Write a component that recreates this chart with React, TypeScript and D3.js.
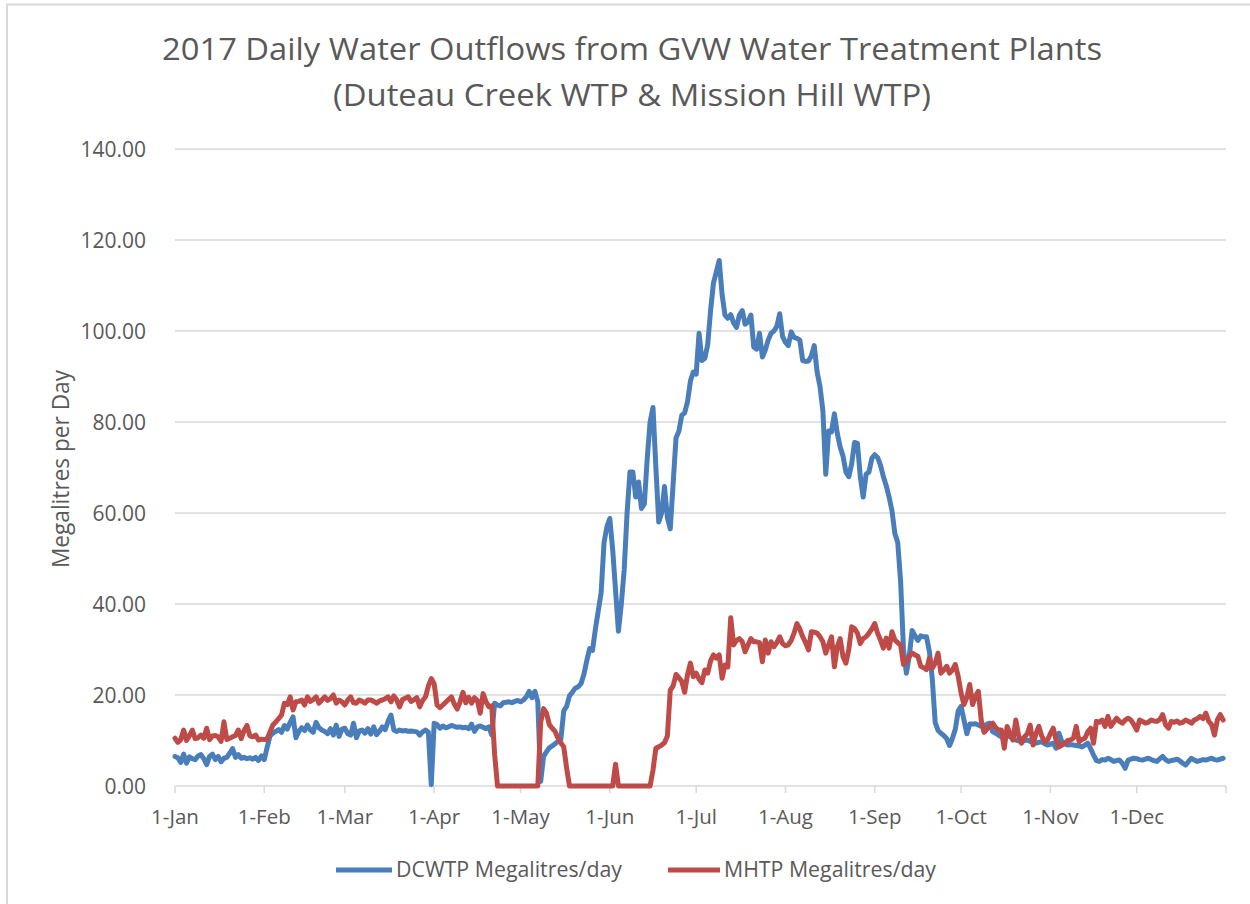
import React, { useEffect, useRef } from "react";
import * as d3 from "d3";

const titleLines = [
  "2017 Daily Water Outflows from GVW Water Treatment Plants",
  "(Duteau Creek WTP & Mission Hill WTP)",
];
const seriesNames = ["DCWTP Megalitres/day", "MHTP Megalitres/day"];
const seriesColors = ["#4a7ebb", "#be4b48"];
const monthLabels = [
  "1-Jan", "1-Feb", "1-Mar", "1-Apr", "1-May", "1-Jun",
  "1-Jul", "1-Aug", "1-Sep", "1-Oct", "1-Nov", "1-Dec",
];
const yTicks = [0, 20, 40, 60, 80, 100, 120, 140];
const yTitle = "Megalitres per Day";

// Duteau Creek WTP, one row per month (1 Jan .. 31 Dec 2017)
const dcwtp = [
  6.5, 6.2, 5.2, 7.0, 5.0, 6.4, 6.0, 5.8, 6.6, 6.9, 6.0, 4.7, 6.5, 7.0, 5.8, 6.5, 5.3, 6.1, 6.3, 7.2, 8.2, 6.3, 6.9, 6.1, 6.3, 6.0, 6.2, 5.9, 6.3, 5.6, 6.6,
  5.8, 8.5, 11.0, 11.6, 12.0, 12.4, 11.8, 13.3, 12.5, 14.0, 15.2, 10.6, 12.0, 12.8, 12.2, 13.4, 12.3, 11.8, 14.0, 12.8, 12.3, 12.0, 11.5, 12.6, 11.2, 13.4, 10.9, 12.5,
  12.7, 11.5, 11.2, 13.8, 10.6, 12.1, 12.3, 11.6, 12.6, 11.4, 13.0, 11.3, 12.0, 13.0, 12.4, 14.2, 15.6, 12.3, 12.0, 12.3, 12.1, 12.2, 12.0, 12.1, 12.0, 11.9, 11.2, 11.9, 12.3, 11.8, 0.3,
  13.8, 13.5, 12.7, 13.2, 12.8, 13.0, 13.3, 13.1, 12.9, 13.0, 12.8, 12.9, 12.6, 13.6, 12.0, 13.0, 13.2, 12.9, 12.6, 13.0, 11.2, 18.2, 17.8, 17.6, 18.3, 18.4, 18.5, 18.3, 18.6, 18.8,
  18.5, 18.9, 19.6, 20.8, 19.4, 20.8, 18.5, 1.0, 6.5, 7.5, 8.4, 8.8, 9.3, 9.8, 10.2, 16.5, 17.5, 19.8, 20.6, 21.5, 21.8, 22.5, 24.5, 27.5, 30.2, 29.8, 34.5, 38.5, 42.5, 53.5, 57.0,
  58.8, 52.0, 43.0, 34.0, 40.0, 47.5, 60.0, 69.0, 69.0, 63.5, 66.8, 61.0, 62.0, 72.0, 80.0, 83.2, 70.0, 58.0, 60.0, 65.8, 59.0, 56.5, 66.5, 76.5, 78.0, 81.5, 82.0, 84.5, 89.0, 91.0,
  90.5, 99.5, 93.5, 94.0, 97.0, 104.5, 110.5, 113.0, 115.5, 108.0, 103.5, 102.8, 103.6, 101.8, 100.8, 103.5, 104.5, 101.5, 102.0, 103.5, 96.5, 96.0, 99.5, 94.3, 95.8, 98.0, 99.5, 100.0, 101.0, 103.8, 98.8,
  97.5, 96.8, 99.8, 98.6, 98.4, 98.0, 93.5, 93.3, 93.4, 94.5, 96.8, 91.0, 87.8, 82.5, 68.5, 78.0, 77.8, 81.8, 77.5, 74.5, 72.5, 69.0, 68.0, 70.8, 75.5, 75.3, 68.0, 63.5, 68.5, 69.0, 72.0,
  72.8, 72.2, 70.5, 68.0, 66.0, 63.5, 60.5, 55.5, 53.5, 45.0, 30.0, 24.8, 28.5, 34.2, 33.0, 32.0, 33.0, 32.8, 32.8, 29.5, 23.5, 14.0, 12.2, 11.6, 11.1, 10.4, 8.9, 10.5, 12.5, 16.5,
  17.5, 14.5, 11.5, 13.6, 13.6, 13.7, 13.4, 13.1, 13.0, 13.6, 13.8, 11.9, 11.6, 11.2, 10.8, 11.0, 11.2, 10.8, 10.4, 10.1, 9.9, 9.7, 10.0, 10.1, 9.8, 9.6, 9.4, 9.6, 9.7, 9.3, 9.0,
  9.2, 9.4, 8.3, 11.6, 9.7, 9.3, 9.0, 9.1, 9.0, 8.9, 8.8, 8.6, 9.0, 9.4, 8.2, 6.8, 5.6, 5.4, 5.8, 5.7, 6.1, 5.8, 5.4, 5.6, 5.7, 5.0, 3.9, 5.7, 5.9, 6.1,
  6.0, 5.8, 5.7, 5.9, 6.1, 5.8, 5.6, 5.4, 6.0, 6.5, 5.8, 5.4, 5.6, 5.7, 5.9, 5.5, 5.0, 4.6, 5.4, 6.1, 5.7, 5.4, 5.6, 5.8, 5.7, 5.9, 6.1, 5.8, 5.7, 5.9, 6.1,
];

// Mission Hill WTP, one row per month
const mhtp = [
  10.5, 9.6, 10.2, 12.3, 10.0, 11.0, 12.3, 10.4, 10.6, 11.2, 10.5, 12.7, 10.2, 11.0, 11.1, 10.8, 9.8, 14.1, 10.2, 10.5, 10.8, 11.1, 12.3, 10.4, 12.2, 13.3, 11.0, 10.8, 11.2, 10.1, 10.3,
  10.2, 10.4, 11.9, 13.4, 14.1, 14.8, 15.6, 18.2, 17.9, 19.6, 16.7, 18.5, 18.6, 18.9, 17.8, 19.6, 18.6, 19.0, 19.6, 18.2, 18.9, 19.6, 18.8, 19.2, 20.0, 18.2, 18.9, 18.5,
  17.8, 18.9, 19.6, 18.3, 18.2, 18.9, 18.6, 18.2, 18.9, 18.9, 18.6, 18.2, 18.7, 18.9, 19.2, 19.6, 18.5, 19.8, 18.9, 17.4, 19.0, 19.3, 19.6, 18.6, 19.0, 19.4, 17.4, 18.8, 19.6, 22.0, 23.6,
  22.5, 17.8, 17.2, 17.8, 18.4, 19.0, 19.6, 18.0, 16.9, 18.5, 20.6, 18.3, 19.5, 18.2, 19.4, 18.8, 16.0, 20.3, 18.5, 17.4, 17.6, 7.0, 0, 0, 0, 0, 0, 0, 0, 0,
  0, 0, 0, 0, 0, 0, 0, 14.0, 17.0, 16.0, 13.5, 12.7, 12.0, 10.5, 9.5, 8.6, 4.0, 0, 0, 0, 0, 0, 0, 0, 0, 0, 0, 0, 0, 0, 0,
  0, 0, 4.8, 0, 0, 0, 0, 0, 0, 0, 0, 0, 0, 0, 0, 3.5, 8.3, 8.6, 9.0, 9.5, 11.0, 21.0, 22.0, 24.5, 23.8, 23.0, 20.6, 24.5, 27.0, 24.0,
  24.8, 23.5, 22.7, 25.5, 24.8, 27.5, 28.8, 28.1, 28.8, 23.7, 26.6, 26.2, 37.0, 31.0, 32.0, 32.4, 31.7, 29.5, 31.0, 32.4, 31.7, 31.7, 31.5, 27.3, 32.1, 29.2, 31.7, 30.6, 31.5, 32.8, 31.3,
  30.8, 31.0, 32.0, 33.6, 35.7, 34.5, 32.8, 31.5, 29.9, 33.9, 33.8, 33.6, 32.8, 31.7, 29.2, 31.0, 32.8, 26.2, 30.6, 32.4, 28.4, 27.0, 30.0, 35.0, 34.6, 33.6, 31.3, 32.4, 32.8, 33.6, 34.5,
  35.7, 33.6, 32.1, 30.3, 32.5, 30.3, 33.9, 32.1, 31.5, 31.0, 26.7, 27.4, 28.5, 29.2, 28.8, 28.5, 26.3, 26.0, 25.6, 28.1, 25.9, 27.0, 29.2, 24.8, 25.5, 26.3, 24.8, 25.5, 26.7, 24.1,
  20.4, 17.9, 19.5, 22.3, 17.9, 19.7, 20.8, 14.4, 11.8, 12.5, 13.3, 13.8, 12.8, 12.3, 12.3, 8.3, 13.1, 11.5, 10.1, 14.5, 11.0, 9.4, 10.8, 11.5, 13.4, 9.0, 11.5, 13.1, 11.0, 9.7, 10.1,
  11.5, 12.7, 10.1, 8.6, 9.0, 9.4, 10.0, 10.1, 10.5, 13.1, 9.7, 10.2, 10.5, 11.9, 12.7, 9.4, 14.2, 14.0, 14.5, 13.1, 15.3, 13.1, 14.0, 14.9, 14.2, 13.8, 14.5, 14.9, 14.5, 13.5,
  12.3, 14.5, 14.2, 13.8, 14.0, 14.5, 14.3, 14.2, 14.6, 15.7, 13.5, 12.7, 14.2, 14.0, 14.3, 13.8, 14.0, 14.5, 14.2, 13.8, 14.5, 14.8, 15.3, 14.8, 16.0, 14.2, 13.5, 11.2, 14.5, 15.7, 14.5,
];

const W = 1250, H = 904;
const font = "'Open Sans', 'DejaVu Sans', sans-serif";
const textColor = "#595959";
const gridColor = "#d9d9d9";

export default function App() {
  const ref = useRef<SVGSVGElement>(null);

  useEffect(() => {
    const svg = d3.select(ref.current);
    svg.selectAll("*").remove();

    const start = new Date(2017, 0, 1);
    const end = new Date(2018, 0, 1);
    const dates = dcwtp.map((_, i) => d3.timeDay.offset(start, i));

    const x = d3.scaleTime().domain([start, end]).range([175, 1226]);
    const y = d3.scaleLinear().domain([0, 140]).range([786, 149]);

    // chart frame (only left/top edges visible in the picture)
    svg.append("rect").attr("width", W).attr("height", H).attr("fill", "#fff");
    svg.append("path")
      .attr("d", `M7,${H} V4.5 H${W}`)
      .attr("fill", "none")
      .attr("stroke", gridColor)
      .attr("stroke-width", 2);

    // title
    titleLines.forEach((t, i) => {
      svg.append("text")
        .attr("x", 632)
        .attr("y", i === 0 ? 60 : 106)
        .attr("text-anchor", "middle")
        .attr("font-family", font)
        .attr("font-size", 31)
        .attr("fill", textColor)
        .attr("textLength", i === 0 ? 940 : 598)
        .attr("lengthAdjust", "spacingAndGlyphs")
        .text(t);
    });

    // horizontal grid + y labels
    const g = svg.append("g");
    yTicks.forEach((v) => {
      if (v > 0) {
        g.append("line")
          .attr("x1", 175).attr("x2", 1226)
          .attr("y1", y(v)).attr("y2", y(v))
          .attr("stroke", gridColor)
          .attr("stroke-width", 1.5);
      }
      g.append("text")
        .attr("x", 146)
        .attr("y", y(v))
        .attr("dy", "0.36em")
        .attr("text-anchor", "end")
        .attr("font-family", font)
        .attr("font-size", 21)
        .attr("fill", textColor)
        .text(v.toFixed(2));
    });

    // x axis
    const monthTicks = d3.timeMonth.range(start, d3.timeDay.offset(end, 1));
    g.append("line")
      .attr("x1", 175).attr("x2", 1226)
      .attr("y1", y(0)).attr("y2", y(0))
      .attr("stroke", gridColor)
      .attr("stroke-width", 1.5);
    monthTicks.forEach((m, i) => {
      g.append("line")
        .attr("x1", x(m)).attr("x2", x(m))
        .attr("y1", y(0)).attr("y2", y(0) + 7)
        .attr("stroke", gridColor)
        .attr("stroke-width", 1.5);
      if (i < monthLabels.length) {
        g.append("text")
          .attr("x", x(m))
          .attr("y", 824)
          .attr("text-anchor", "middle")
          .attr("font-family", font)
          .attr("font-size", 20.5)
          .attr("fill", textColor)
          .text(monthLabels[i]);
      }
    });

    // y axis title
    svg.append("text")
      .attr("transform", "translate(68.5,469) rotate(-90)")
      .attr("text-anchor", "middle")
      .attr("font-family", font)
      .attr("font-size", 23)
      .attr("fill", textColor)
      .attr("textLength", 198)
      .attr("lengthAdjust", "spacingAndGlyphs")
      .text(yTitle);

    // lines
    const line = d3.line<number>()
      .x((_, i) => x(dates[i]))
      .y((d) => y(d));

    [dcwtp, mhtp].forEach((s, k) => {
      svg.append("path")
        .datum(s)
        .attr("d", line)
        .attr("fill", "none")
        .attr("stroke", seriesColors[k])
        .attr("stroke-width", 5)
        .attr("stroke-linejoin", "round")
        .attr("stroke-linecap", "round");
    });

    // legend
    const legend = [
      { x1: 336, x2: 392, tx: 396, len: 226 },
      { x1: 668, x2: 720, tx: 724, len: 212 },
    ];
    legend.forEach((l, k) => {
      svg.append("line")
        .attr("x1", l.x1).attr("x2", l.x2)
        .attr("y1", 870).attr("y2", 870)
        .attr("stroke", seriesColors[k])
        .attr("stroke-width", 5);
      svg.append("text")
        .attr("x", l.tx)
        .attr("y", 877)
        .attr("font-family", font)
        .attr("font-size", 21)
        .attr("fill", textColor)
        .attr("textLength", l.len)
        .attr("lengthAdjust", "spacingAndGlyphs")
        .text(seriesNames[k]);
    });
  }, []);

  return (
    <svg
      ref={ref}
      width={W}
      height={H}
      style={{ position: "absolute", left: 0, top: 0, display: "block" }}
    />
  );
}
